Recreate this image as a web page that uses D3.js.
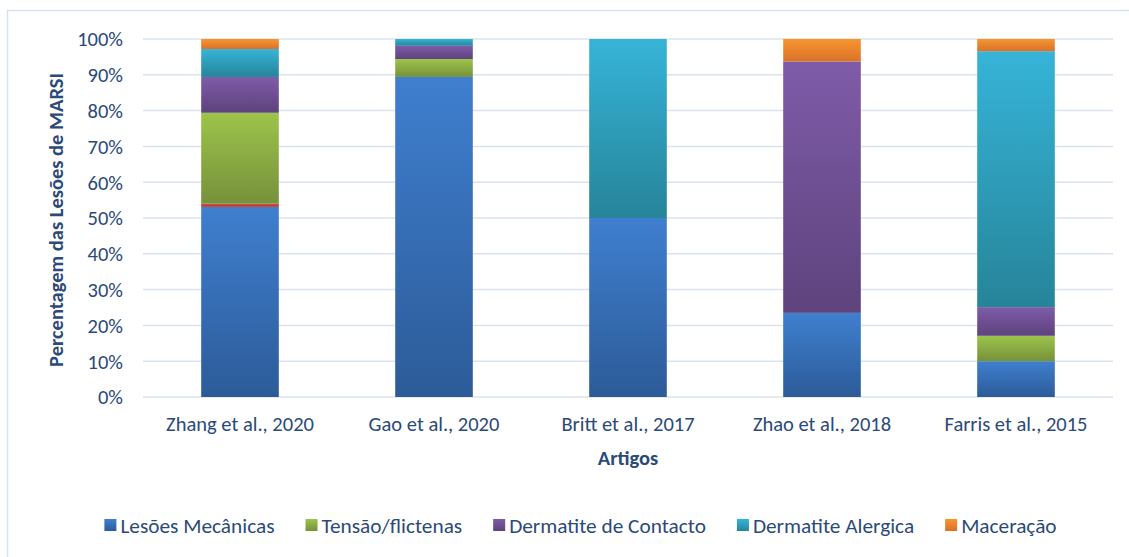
<!DOCTYPE html>
<html><head><meta charset="utf-8">
<script src="https://cdn.jsdelivr.net/npm/d3@7"></script>
<style>body{margin:0;background:#fff;} text{font-family:Calibri,Carlito,Lato,sans-serif;}</style>
</head><body>
<svg id="c" width="1129" height="557"></svg>
<script>
const categories = ["Zhang et al., 2020","Gao et al., 2020","Britt et al., 2017","Zhao et al., 2018","Farris et al., 2015"];
const lesoesMecanicas   = [53.1, 89.4, 50, 23.5, 10.0];
const outro             = [0.9, 0, 0, 0, 0];
const tensaoFlictenas   = [25.4, 5.0, 0, 0, 7.1];
const dermatiteContacto = [10.0, 3.7, 0, 70.2, 8.0];
const dermatiteAlergica = [7.8, 1.9, 50, 0, 71.5];
const maceracao         = [2.8, 0, 0, 6.3, 3.4];
const yTicks = [0,10,20,30,40,50,60,70,80,90,100];

const series = [
  {name:"Lesões Mecânicas", values:lesoesMecanicas, top:"#3f7fcf", bot:"#2c5b98", legend:true},
  {name:"Outro", values:outro, top:"#d04a3e", bot:"#b83a30", legend:false},
  {name:"Tensão/flictenas", values:tensaoFlictenas, top:"#9dc44b", bot:"#76913a", legend:true},
  {name:"Dermatite de Contacto", values:dermatiteContacto, top:"#7e5ba8", bot:"#5e437d", legend:true},
  {name:"Dermatite Alergica", values:dermatiteAlergica, top:"#36b4d8", bot:"#268499", legend:true},
  {name:"Maceração", values:maceracao, top:"#f8952f", bot:"#d8722a", legend:true}
];
const textColor = "#2b4a7a";
const FS = 20.5, LFS = 21.3;
const svg = d3.select("#c");
svg.append("rect").attr("x",7.5).attr("y",10.5).attr("width",1140).attr("height",560)
  .attr("fill","none").attr("stroke","#d6e2f2").attr("stroke-width",1.5);

const m = {l:143, r:1113, t:39, b:397};
const x = d3.scaleBand().domain(categories).range([m.l,m.r]).paddingInner(0.6).paddingOuter(0.3);
const y = d3.scaleLinear().domain([0,100]).range([m.b,m.t]);

const defs = svg.append("defs");
series.forEach((s,i)=>{
  const g = defs.append("linearGradient").attr("id","g"+i).attr("x1",0).attr("y1",0).attr("x2",0).attr("y2",1);
  g.append("stop").attr("offset","0%").attr("stop-color",s.top);
  g.append("stop").attr("offset","100%").attr("stop-color",s.bot);
});

svg.append("g").selectAll("line").data(yTicks).join("line")
  .attr("x1",m.l).attr("x2",m.r).attr("y1",d=>y(d)).attr("y2",d=>y(d))
  .attr("stroke","#d9e3f1").attr("stroke-width",1.5);

svg.append("g").selectAll("text").data(yTicks).join("text")
  .attr("x",m.l-20).attr("y",d=>y(d)).attr("dy","0.36em").attr("text-anchor","end")
  .attr("font-size",FS).attr("fill",textColor).text(d=>d+"%");

const rows = categories.map((c,ci)=>{const r={cat:c}; series.forEach((s,si)=>r["s"+si]=s.values[ci]); return r;});
const stack = d3.stack().keys(series.map((s,i)=>"s"+i))(rows);
svg.append("g").selectAll("g").data(stack).join("g")
  .attr("fill",(d,i)=>`url(#g${i})`)
  .selectAll("rect").data(d=>d.filter(p=>p[1]-p[0]>0)).join("rect")
  .attr("x",d=>x(d.data.cat)).attr("width",x.bandwidth())
  .attr("y",d=>y(d[1])).attr("height",d=>y(d[0])-y(d[1]));

svg.append("g").selectAll("text").data(categories).join("text")
  .attr("x",d=>x(d)+x.bandwidth()/2).attr("y",431).attr("text-anchor","middle")
  .attr("font-size",FS).attr("fill",textColor).text(d=>d);

svg.append("text").attr("x",(m.l+m.r)/2).attr("y",465).attr("text-anchor","middle")
  .attr("font-size",FS).attr("font-weight","bold").attr("fill",textColor).text("Artigos");
svg.append("text").attr("transform",`translate(63,${(m.t+m.b)/2 + 2}) rotate(-90)`).attr("text-anchor","middle")
  .attr("font-size",FS).attr("font-weight","bold").attr("fill",textColor).text("Percentagem das Lesões de MARSI");

const leg = svg.append("g");
const items = series.filter(s=>s.legend);
let cx = 0; const gap = 31;
items.forEach((s)=>{
  const g = leg.append("g");
  g.append("rect").attr("width",12).attr("height",12).attr("y",-6).attr("fill",`url(#g${series.indexOf(s)})`);
  const t = g.append("text").attr("x",16).attr("dy","0.36em").attr("font-size",LFS).attr("fill",textColor).text(s.name);
  const w = 16 + t.node().getComputedTextLength();
  g.attr("transform",`translate(${cx},0)`);
  cx += w + gap;
});
const total = cx - gap;
leg.attr("transform",`translate(${(96+1065)/2 - total/2},525)`);
</script>
</body></html>
